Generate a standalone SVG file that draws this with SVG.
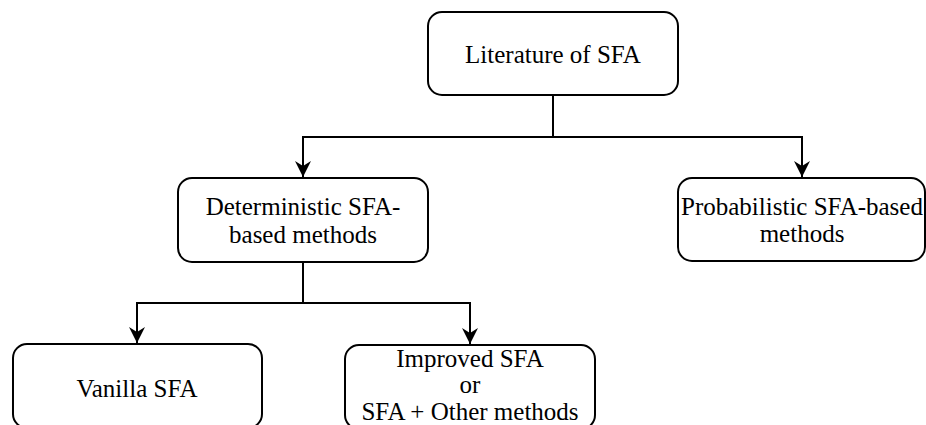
<svg xmlns="http://www.w3.org/2000/svg" width="926" height="425" viewBox="0 0 926 425">
<style>
.box{fill:#fff;stroke:#000;stroke-width:2}
.con{fill:none;stroke:#000;stroke-width:2}
</style>
<defs>
<marker id="arr" viewBox="0 0 16 16" refX="16" refY="8" markerWidth="16" markerHeight="16" markerUnits="userSpaceOnUse" orient="auto">
<path d="M0,0 L16,8 L0,16 L5,8 Z" fill="#000"/>
</marker>
</defs>
<rect width="926" height="425" fill="#fff"/>
<g id="connectors">
<path class="con" d="M553,95 V137 H303 V177" marker-end="url(#arr)"/>
<path class="con" d="M553,137 H802 V177" marker-end="url(#arr)"/>
<path class="con" d="M303,262 V303 H137 V343" marker-end="url(#arr)"/>
<path class="con" d="M303,303 H470 V344" marker-end="url(#arr)"/>
</g>
<g font-family="Liberation Serif, Times New Roman, serif" font-size="25" fill="#000" text-anchor="middle">
<g id="literature">
<rect class="box" x="428" y="12" width="250" height="83" rx="14"/>
<text x="553" y="63">Literature of SFA</text>
</g>
<g id="deterministic">
<rect class="box" x="178" y="178" width="250" height="84" rx="14"/>
<text x="303" y="215">Deterministic SFA-</text>
<text x="303" y="243">based methods</text>
</g>
<g id="probabilistic">
<rect class="box" x="678" y="178" width="247" height="83" rx="14"/>
<text x="802" y="215">Probabilistic SFA-based</text>
<text x="802" y="242">methods</text>
</g>
<g id="vanilla">
<rect class="box" x="13" y="344" width="249" height="84" rx="14"/>
<text x="137" y="397">Vanilla SFA</text>
</g>
<g id="improved">
<rect class="box" x="345" y="345" width="250" height="84" rx="14"/>
<text x="470" y="367">Improved SFA</text>
<text x="470" y="393">or</text>
<text x="470" y="420">SFA + Other methods</text>
</g>
</g>
</svg>
